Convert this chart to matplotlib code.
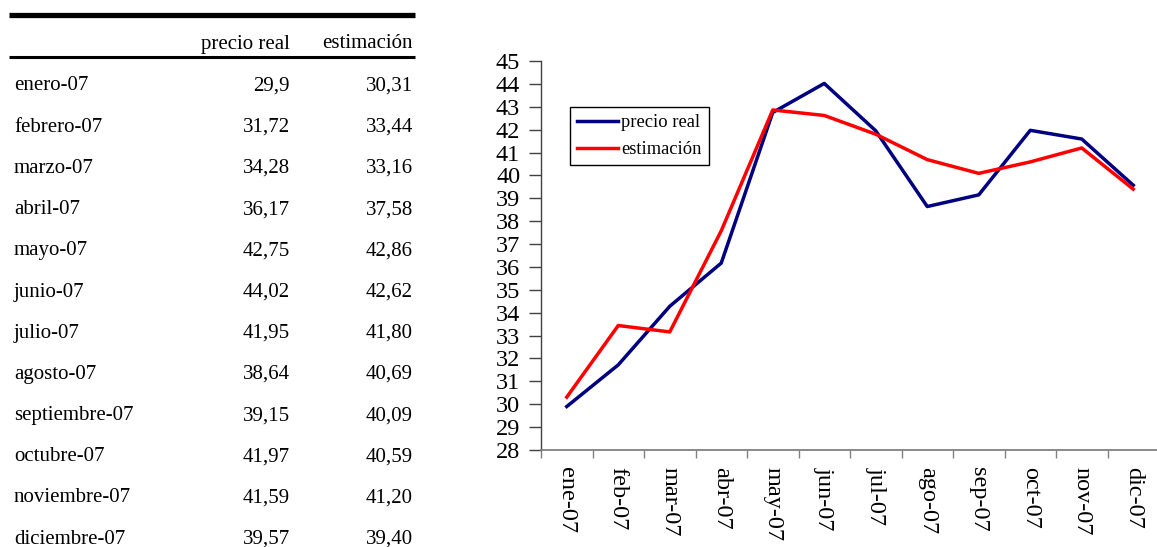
import matplotlib
matplotlib.use("Agg")
import matplotlib.pyplot as plt
from matplotlib.lines import Line2D

plt.rcParams['font.family'] = ['Liberation Serif', 'DejaVu Serif']

months_full = ["enero-07", "febrero-07", "marzo-07", "abril-07", "mayo-07", "junio-07",
               "julio-07", "agosto-07", "septiembre-07", "octubre-07", "noviembre-07", "diciembre-07"]
months_short = ["ene-07", "feb-07", "mar-07", "abr-07", "may-07", "jun-07",
                "jul-07", "ago-07", "sep-07", "oct-07", "nov-07", "dic-07"]
precio_real = [29.9, 31.72, 34.28, 36.17, 42.75, 44.02, 41.95, 38.64, 39.15, 41.97, 41.59, 39.57]
estimacion = [30.31, 33.44, 33.16, 37.58, 42.86, 42.62, 41.80, 40.69, 40.09, 40.59, 41.20, 39.40]
col_headers = ["precio real", "estimación"]
y_ticks = list(range(28, 46))

W, H = 1157, 547
fig = plt.figure(figsize=(W / 100, H / 100), dpi=100)

def fx(px):
    return px / W

def fy(py):
    return 1 - py / H

# ---- Table ----
fig.add_artist(Line2D([fx(9), fx(415)], [fy(15), fy(15)], color='black', lw=3.8,
                      transform=fig.transFigure, solid_capstyle='butt'))
fig.add_artist(Line2D([fx(9), fx(415)], [fy(57), fy(57)], color='black', lw=2.2,
                      transform=fig.transFigure, solid_capstyle='butt'))
tfs = 15
fig.text(fx(290), fy(44), col_headers[0], ha='right', va='center', fontsize=tfs)
fig.text(fx(413), fy(44), col_headers[1], ha='right', va='center', fontsize=tfs)
row0, dy = 86, 41.2
for i, m in enumerate(months_full):
    y = fy(row0 + i * dy)
    fig.text(fx(14), y, m, ha='left', va='center', fontsize=tfs)
    fig.text(fx(290), y, f"{precio_real[i]:g}".replace('.', ','), ha='right', va='center', fontsize=tfs)
    fig.text(fx(413), y, f"{estimacion[i]:.2f}".replace('.', ','), ha='right', va='center', fontsize=tfs)

# ---- Chart ----
ax = fig.add_axes([fx(541), fy(450), fx(1159) - fx(541), fy(61) - fy(450)])
x = list(range(len(months_short)))
l1, = ax.plot(x, precio_real, color='#000080', lw=2.5, label='precio real')
l2, = ax.plot(x, estimacion, color='#FF0000', lw=2.5, label='estimación')
ax.set_xlim(-0.5, len(x) - 0.5)
ax.set_ylim(28, 45)
ax.set_yticks(y_ticks)
ax.set_yticklabels([str(v) for v in y_ticks], fontsize=17.5)
ax.tick_params(axis='y', length=8.5, width=1, pad=6.5, direction='out', color='#404040')

ax.set_xticks([k - 0.5 for k in range(len(x) + 1)])
ax.set_xticklabels([])
ax.set_xticks(x, minor=True)
ax.set_xticklabels(months_short, minor=True, rotation=-90, fontsize=17.5, va='top', ha='center')
ax.tick_params(axis='x', which='major', length=5.5, width=1, color='#808080')
ax.tick_params(axis='x', which='minor', length=0, pad=12.5)

for s in ['top', 'right']:
    ax.spines[s].set_visible(False)
ax.spines['left'].set_color('#404040')
ax.spines['bottom'].set_color('#808080')
ax.spines['left'].set_linewidth(1)
ax.spines['bottom'].set_linewidth(1.3)

leg = ax.legend(handles=[l1, l2], loc='upper left',
                bbox_to_anchor=(fx(570), fy(107)), bbox_transform=fig.transFigure,
                borderaxespad=0, fancybox=False, edgecolor='black', fontsize=13.3,
                handlelength=2.2, handletextpad=0.2, labelspacing=0.55,
                borderpad=0.38, framealpha=1)
leg.get_frame().set_linewidth(1)

fig.savefig('out.png', dpi=100)
